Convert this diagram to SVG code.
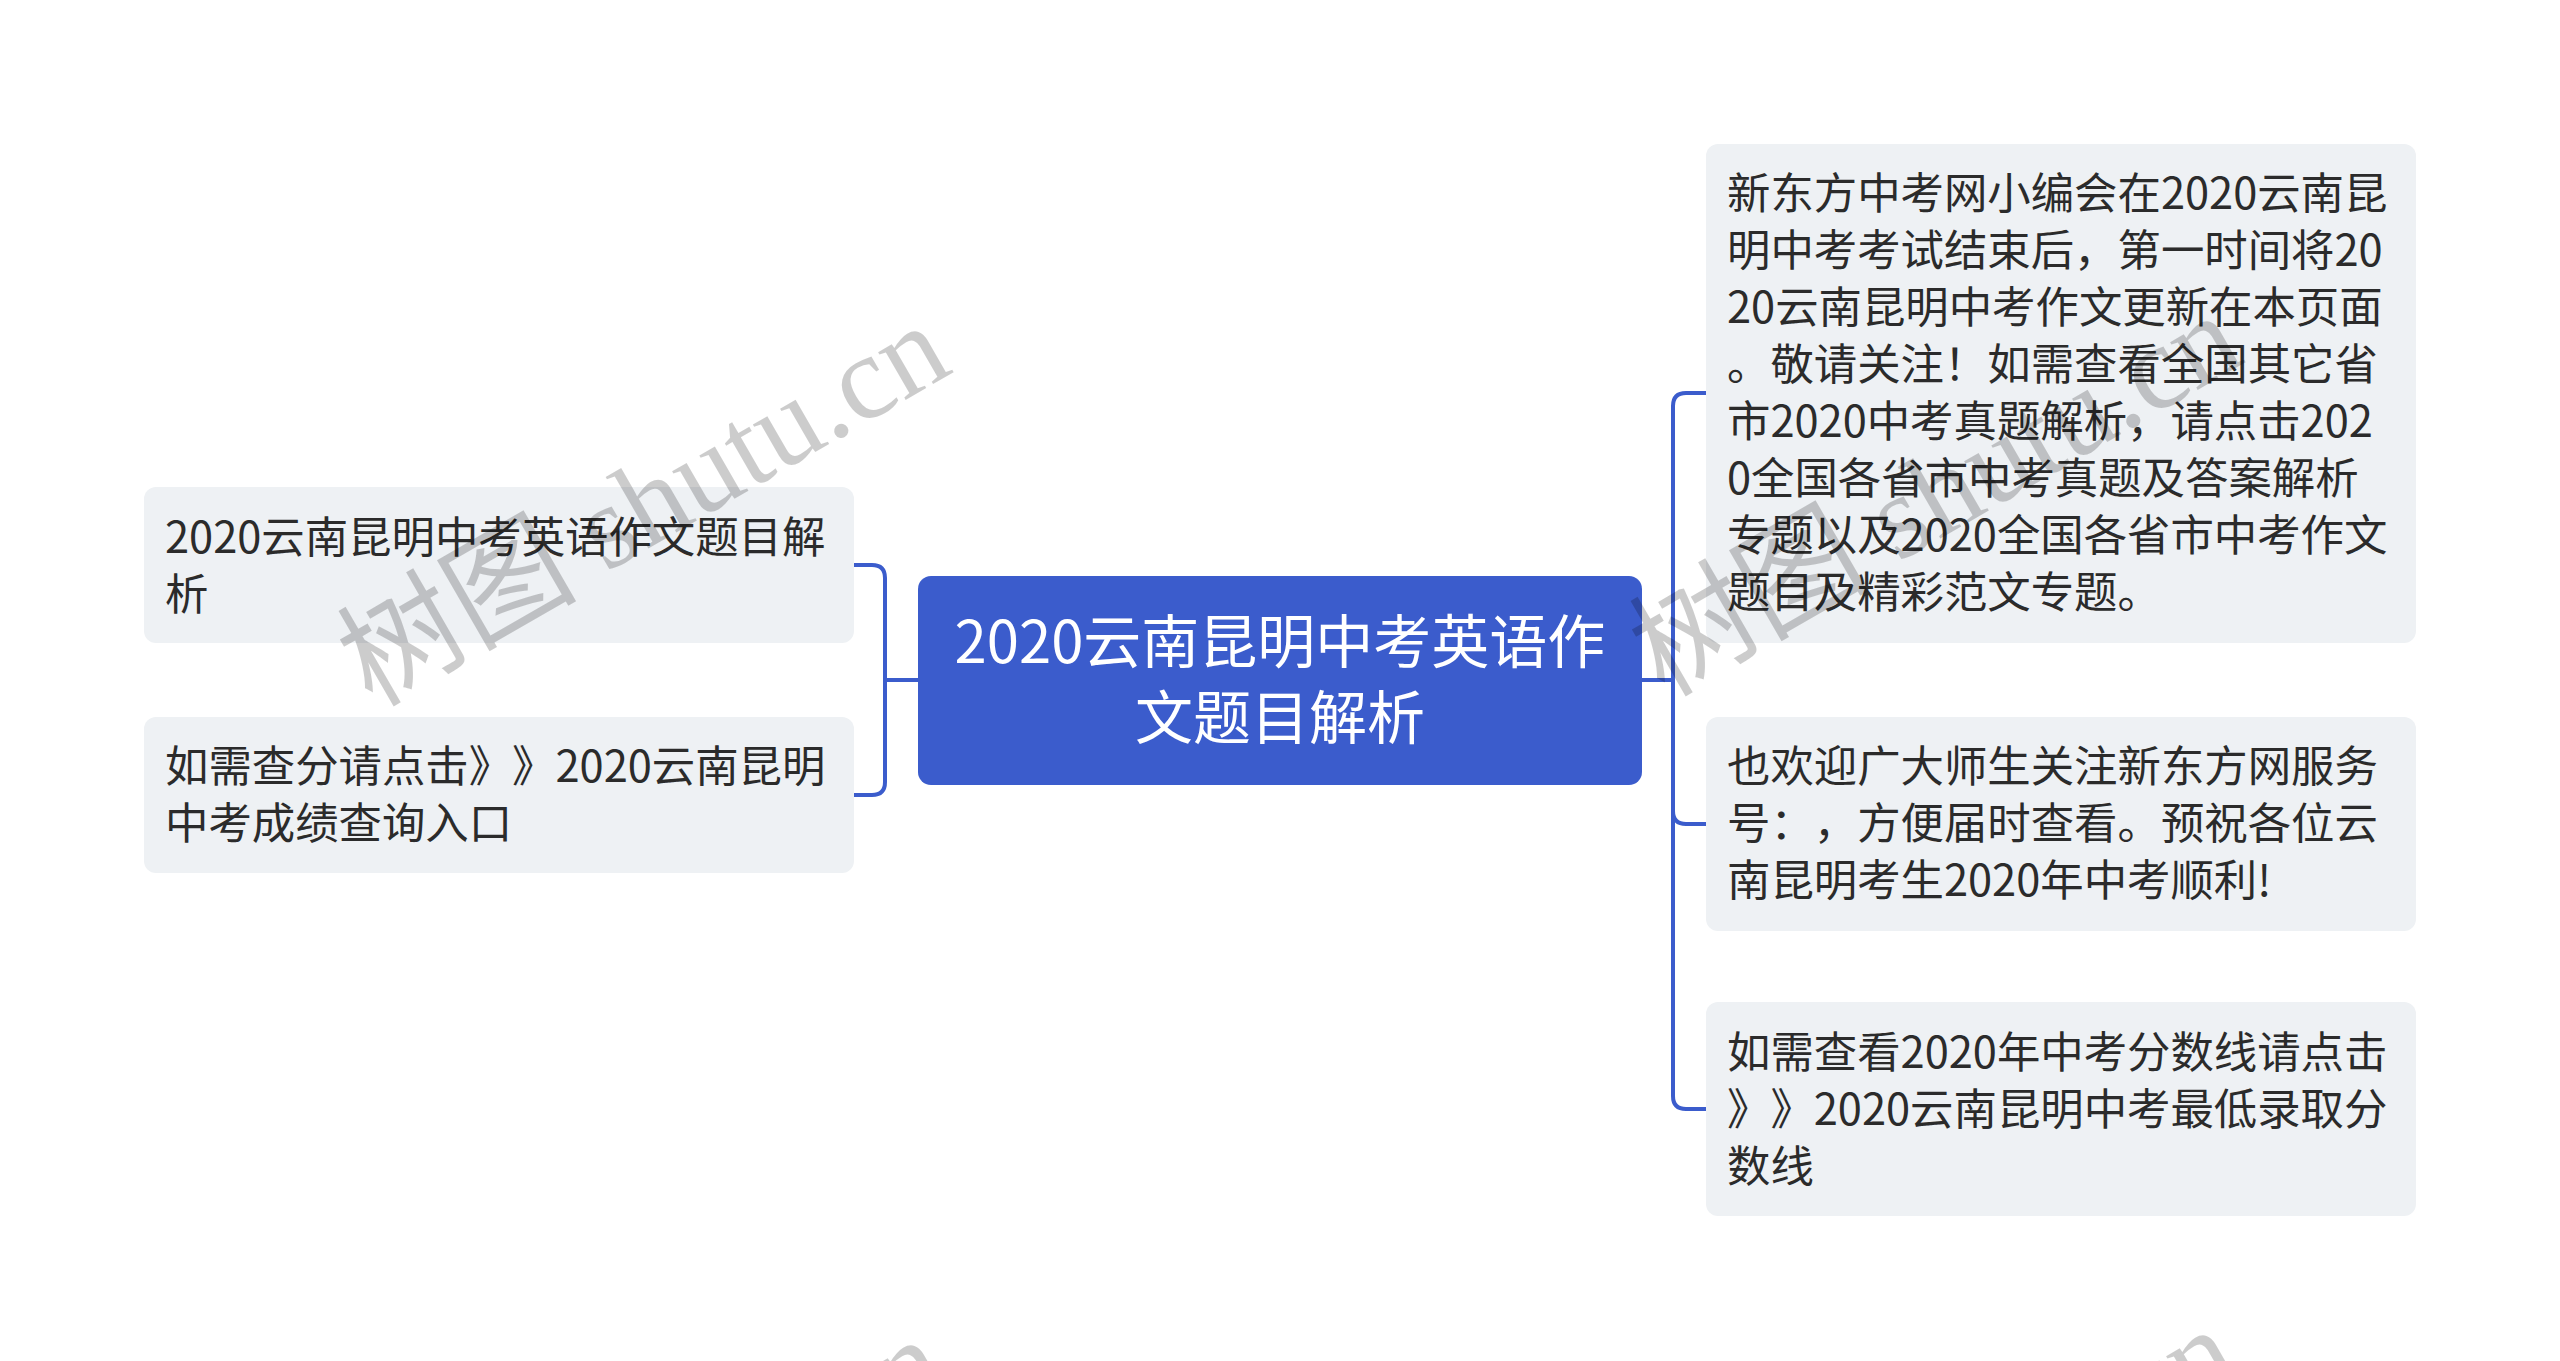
<svg xmlns="http://www.w3.org/2000/svg" width="2560" height="1361" viewBox="0 0 2560 1361">
<style>
.bg{fill:#ffffff}
text{text-spacing-trim:space-all}
.node rect{fill:#eef1f4}
.node text{font-family:"Noto Sans CJK SC","Noto Sans",sans-serif;font-size:43.4px;fill:#2b2b2b}
.root rect{fill:#3b5ccc}
.root text{font-family:"Noto Sans CJK SC","Noto Sans",sans-serif;font-size:58px;fill:#ffffff;text-anchor:middle}
.conn path{fill:none;stroke:#3b5ccc;stroke-width:4}
.wm{font-family:"Liberation Serif","Noto Sans CJK SC",serif;font-size:120px;fill:#000;fill-opacity:0.2}
</style>
<rect class="bg" x="0" y="0" width="2560" height="1361"/>
<g id="connectors" class="conn">
<path d="M918,680 H885 V578 Q885,565 872,565 H854"/>
<path d="M918,680 H885 V782 Q885,795 872,795 H854"/>
<path d="M1642,680 H1673 V406 Q1673,393 1686,393 H1706"/>
<path d="M1642,680 H1673 V811 Q1673,824 1686,824 H1706"/>
<path d="M1642,680 H1673 V1096 Q1673,1109 1686,1109 H1706"/>
</g>
<g id="root" class="root">
<rect x="918" y="576" width="724" height="209" rx="13"/>
<text x="1280" y="663">2020云南昆明中考英语作</text>
<text x="1280" y="739">文题目解析</text>
</g>
<g id="node-left-1" class="node">
<rect x="144" y="487" width="710" height="156" rx="12"/>
<text x="165" y="553">2020云南昆明中考英语作文题目解</text>
<text x="165" y="610">析</text>
</g>
<g id="node-left-2" class="node">
<rect x="144" y="717" width="710" height="156" rx="12"/>
<text x="165" y="782">如需查分请点击》》2020云南昆明</text>
<text x="165" y="839">中考成绩查询入口</text>
</g>
<g id="node-right-1" class="node">
<rect x="1706" y="144" width="710" height="499" rx="12"/>
<text x="1727" y="209">新东方中考网小编会在2020云南昆</text>
<text x="1727" y="266">明中考考试结束后，第一时间将20</text>
<text x="1727" y="323">20云南昆明中考作文更新在本页面</text>
<text x="1727" y="380">。敬请关注！如需查看全国其它省</text>
<text x="1727" y="437">市2020中考真题解析，请点击202</text>
<text x="1727" y="494">0全国各省市中考真题及答案解析</text>
<text x="1727" y="551">专题以及2020全国各省市中考作文</text>
<text x="1727" y="608">题目及精彩范文专题。</text>
</g>
<g id="node-right-2" class="node">
<rect x="1706" y="717" width="710" height="214" rx="12"/>
<text x="1727" y="782">也欢迎广大师生关注新东方网服务</text>
<text x="1727" y="839">号：，方便届时查看。预祝各位云</text>
<text x="1727" y="896">南昆明考生2020年中考顺利!</text>
</g>
<g id="node-right-3" class="node">
<rect x="1706" y="1002" width="710" height="214" rx="12"/>
<text x="1727" y="1068">如需查看2020年中考分数线请点击</text>
<text x="1727" y="1125">》》2020云南昆明中考最低录取分</text>
<text x="1727" y="1182">数线</text>
</g>
<g id="watermarks">
<text class="wm" transform="translate(372,708) rotate(-30)">树图 shutu.cn</text>
<text class="wm" transform="translate(1664,698) rotate(-30)">树图 shutu.cn</text>
<text class="wm" transform="translate(368,1722) rotate(-30)">树图 shutu.cn</text>
<text class="wm" transform="translate(1660,1712) rotate(-30)">树图 shutu.cn</text>
</g>
</svg>
